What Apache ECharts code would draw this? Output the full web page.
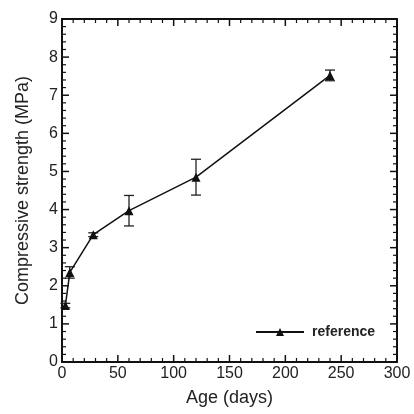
<!DOCTYPE html>
<html>
<head>
<meta charset="utf-8">
<script src="https://cdn.jsdelivr.net/npm/echarts@6/dist/echarts.min.js"></script>
<style>html,body{margin:0;padding:0;background:#fff}#c{width:414px;height:414px}</style>
</head>
<body>
<div id="c"></div>
<script>
const ages = [3, 7, 28, 60, 120, 240];
const strength = [1.48, 2.35, 3.34, 3.97, 4.85, 7.52];
const errors = [0.06, 0.15, 0.05, 0.4, 0.47, 0.14];
const seriesName = 'reference';
const xTitle = 'Age (days)';
const yTitle = 'Compressive strength (MPa)';
const xMajorTicks = [0, 50, 100, 150, 200, 250, 300];
const yMajorTicks = [0, 1, 2, 3, 4, 5, 6, 7, 8, 9];

const X_MIN = 0, X_MAX = 300, Y_MIN = 0, Y_MAX = 9;
const chart = echarts.init(document.getElementById('c'));
const font = 'Liberation Sans, Arial, sans-serif';
const txt = '#222';

// tick items: [x, y, kind] kind 0=x major,1=x minor,2=y major,3=y minor
const tickItems = [];
xMajorTicks.forEach((v, i) => {
  tickItems.push([v, Y_MIN, 0]);
  if (i < xMajorTicks.length - 1) {
    const step = (xMajorTicks[i + 1] - v) / 5;
    for (let j = 1; j < 5; j++) tickItems.push([v + step * j, Y_MIN, 1]);
  }
});
yMajorTicks.forEach((v, i) => {
  tickItems.push([X_MIN, v, 2]);
  if (i < yMajorTicks.length - 1) {
    const step = (yMajorTicks[i + 1] - v) / 5;
    for (let j = 1; j < 5; j++) tickItems.push([X_MIN, v + step * j, 3]);
  }
});

function makeAxis(extra) {
  return Object.assign({
    type: 'value',
    axisLine: { show: true, onZero: false, lineStyle: { color: '#111', width: 2 } },
    axisTick: { show: false },
    minorTick: { show: false },
    splitLine: { show: false },
    axisLabel: { show: false }
  }, extra);
}

const lineData = ages.map((a, i) => [a, strength[i]]);
const errData = ages.map((a, i) => [a, strength[i] - errors[i], strength[i] + errors[i]]);

chart.setOption({
  animation: false,
  grid: { left: 62, right: 17, top: 19, bottom: 52 },
  legend: {
    data: [seriesName], left: 250, top: 320, itemWidth: 48, itemHeight: 10,
    textStyle: { fontFamily: font, fontSize: 14, fontWeight: 'bold', color: txt, padding: [0, 0, 0, 3] }
  },
  xAxis: [
    makeAxis({
      min: X_MIN, max: X_MAX, interval: 50, position: 'bottom',
      name: xTitle, nameLocation: 'middle', nameGap: 27,
      nameTextStyle: { fontFamily: font, fontSize: 18, color: txt },
      axisLabel: { show: true, fontFamily: font, fontSize: 16, color: txt, margin: 4 }
    }),
    makeAxis({ min: X_MIN, max: X_MAX, interval: 50, position: 'top' })
  ],
  yAxis: [
    makeAxis({
      min: Y_MIN, max: Y_MAX, interval: 1, position: 'left',
      name: yTitle, nameLocation: 'middle', nameGap: 30,
      nameTextStyle: { fontFamily: font, fontSize: 18, color: txt },
      axisLabel: { show: true, fontFamily: font, fontSize: 16, color: txt, margin: 4 }
    }),
    makeAxis({ min: Y_MIN, max: Y_MAX, interval: 1, position: 'right' })
  ],
  series: [
    {
      name: 'ticks', type: 'custom', xAxisIndex: 0, yAxisIndex: 0, data: tickItems, z: 2,
      silent: true, clip: false, encode: { x: 0, y: 1 },
      renderItem: function (params, api) {
        const k = api.value(2);
        const style = { stroke: '#111', lineWidth: k % 2 === 0 ? 1.5 : 1.2, fill: null };
        const L = k % 2 === 0 ? 7 : 4;
        if (k < 2) {
          const v = api.value(0);
          const b = api.coord([v, Y_MIN]);
          const t = api.coord([v, Y_MAX]);
          return { type: 'group', children: [
            { type: 'line', shape: { x1: b[0], y1: b[1], x2: b[0], y2: b[1] - L }, style: style },
            { type: 'line', shape: { x1: t[0], y1: t[1], x2: t[0], y2: t[1] + L }, style: style }
          ] };
        } else {
          const v = api.value(1);
          const l = api.coord([X_MIN, v]);
          const r = api.coord([X_MAX, v]);
          return { type: 'group', children: [
            { type: 'line', shape: { x1: l[0], y1: l[1], x2: l[0] + L, y2: l[1] }, style: style },
            { type: 'line', shape: { x1: r[0], y1: r[1], x2: r[0] - L, y2: r[1] }, style: style }
          ] };
        }
      }
    },
    {
      name: 'errbars', type: 'custom', xAxisIndex: 0, yAxisIndex: 0, data: errData, z: 3,
      renderItem: function (params, api) {
        const x = api.value(0);
        const lo = api.coord([x, api.value(1)]);
        const hi = api.coord([x, api.value(2)]);
        const w = 5;
        const style = { stroke: '#222', lineWidth: 1.3, fill: null };
        return {
          type: 'group', children: [
            { type: 'line', shape: { x1: lo[0], y1: lo[1], x2: hi[0], y2: hi[1] }, style: style },
            { type: 'line', shape: { x1: lo[0] - w, y1: lo[1], x2: lo[0] + w, y2: lo[1] }, style: style },
            { type: 'line', shape: { x1: hi[0] - w, y1: hi[1], x2: hi[0] + w, y2: hi[1] }, style: style }
          ]
        };
      }
    },
    {
      name: seriesName, type: 'line', xAxisIndex: 0, yAxisIndex: 0, data: lineData, z: 4,
      symbol: 'triangle', symbolSize: 9,
      lineStyle: { color: '#111', width: 1.5 },
      itemStyle: { color: '#111', borderWidth: 0 }
    }
  ]
});
</script>
</body>
</html>
